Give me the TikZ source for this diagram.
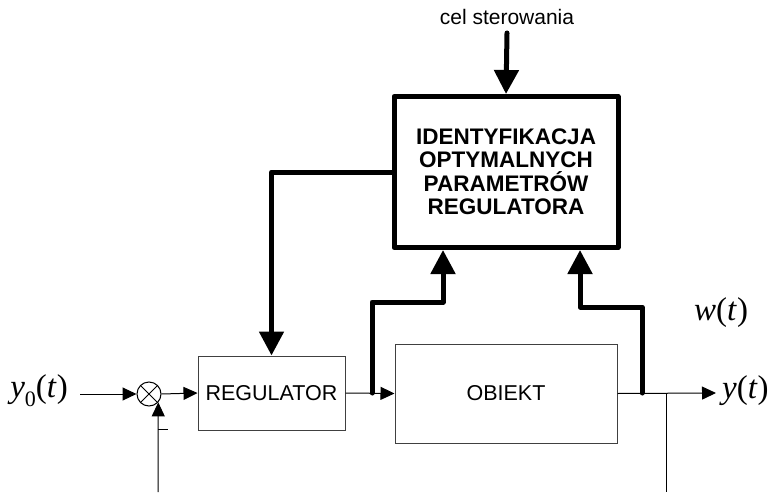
\documentclass[tikz,border=0pt]{standalone}
\usepackage{fontspec}
\setmainfont{Liberation Sans}
\newfontfamily\tms{Liberation Serif}
\usetikzlibrary{arrows.meta}
\begin{document}
\begin{tikzpicture}[x=1pt,y=-1pt,
  thinbox/.style={draw=black!75,line width=1pt,fill=white,inner sep=0pt,font=\fontsize{21.5}{24}\selectfont},
  idbox/.style={draw=black,line width=5pt,line join=round,inner sep=0pt,align=center,font=\fontsize{22.5}{23.5}\selectfont\bfseries},
  sig/.style={line width=1pt,draw=black},
  sigarr/.style={sig,-{Triangle[length=14pt,width=13pt]}},
  thk/.style={line width=5pt,line join=round,line cap=round,draw=black},
  thkarr/.style={thk,-{Triangle[length=24pt,width=24pt]}},
  lbl/.style={inner sep=0pt,font=\fontsize{33}{33}\selectfont\tms}
]
\useasboundingbox (0,0) rectangle (770,492);

% blocks
\node[thinbox,minimum width=147pt,minimum height=74pt] (reg) at (271.5,393) {REGULATOR};
\node[thinbox,minimum width=222pt,minimum height=99pt] (obj) at (506,393.5) {OBIEKT};
\node[idbox,minimum width=224pt,minimum height=151pt] (id) at (506,172)
  {IDENTYFIKACJA\\OPTYMALNYCH\\PARAMETRÓW\\REGULATORA};
\node[circle,draw=black,line width=1pt,minimum size=24pt,inner sep=0pt] (sum) at (149,394) {};
\draw[line width=0.8pt] (sum.45) -- (sum.225) (sum.135) -- (sum.-45);

% labels
\node[inner sep=0pt,font=\fontsize{21}{21}\selectfont] (cel) at (507,17) {cel sterowania};
\node[lbl,anchor=east] (y0) at (68,391) {\textit{y}\raisebox{-0.28em}{\fontsize{22}{22}\selectfont 0}(\textit{t})};
\node[lbl,anchor=west] (yt) at (722,391) {\textit{y}(\textit{t})};
\node[lbl,anchor=west] (wt) at (694,313) {\textit{w}(\textit{t})};

% coordinates
\coordinate (in) at (80,394);
\coordinate (j1) at (372,393);
\coordinate (j2) at (642,393);
\coordinate (k1) at (443,302);
\coordinate (k2) at (580,307);
\coordinate (out) at (716,393);
\coordinate (br) at (666,393);
\coordinate (brend) at (666,492);
\coordinate (fb) at (158,492);
\coordinate (m1) at (158,429);
\coordinate (m2) at (168,429);
\coordinate (celtop) at (507,33);

% thin signal path
\draw[sigarr] (in) -- (sum.west);
\draw[sigarr] (sum.east) -- (reg.west);
\draw[sigarr] (reg.east) -- (obj.west);
\draw[sigarr] (obj.east) -- (out);
\draw[sig] (br) -- (brend);
\draw[sigarr] (fb) -- (sum.-42);
\draw[sig] (m1) -- (m2);

% thick paths
\draw[thkarr] (celtop) -- (id.north);
\draw[thkarr] (id.west) -| (reg.north);
\draw[thkarr] (j1) |- (k1) -- (k1 |- id.south);
\draw[thkarr] (j2) |- (k2) -- (k2 |- id.south);
\end{tikzpicture}
\end{document}
